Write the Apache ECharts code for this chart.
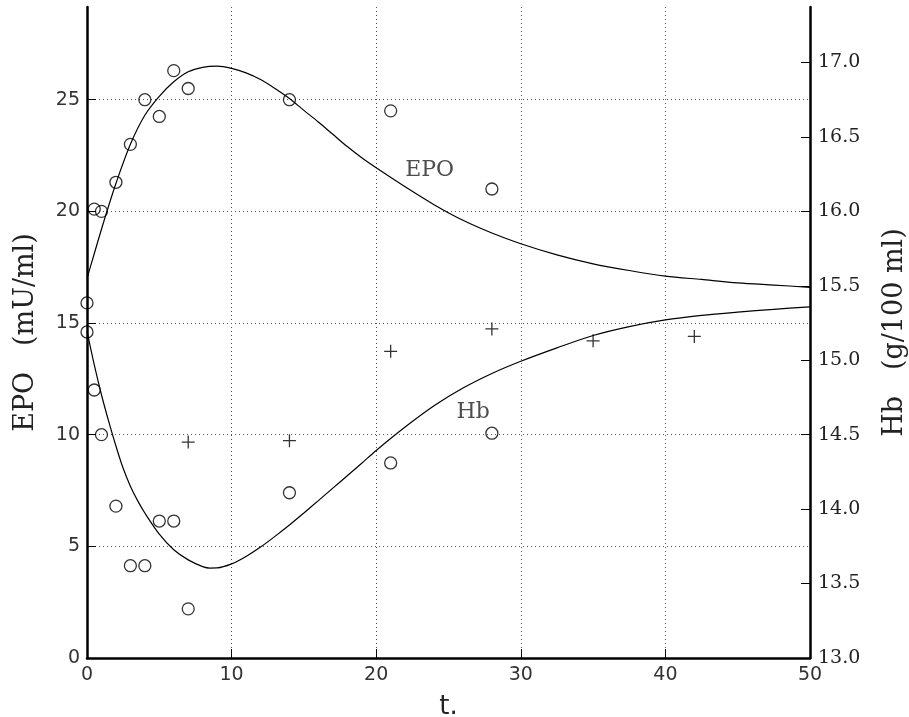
<!DOCTYPE html>
<html>
<head>
<meta charset="utf-8">
<script src="https://cdn.jsdelivr.net/npm/echarts@6/dist/echarts.min.js"></script>
<style>
html,body{margin:0;padding:0;background:#fff;}
#chart{width:909px;height:717px;}
</style>
</head>
<body>
<div id="chart"></div>
<script>
// ---- data ----
// EPO measurements (mU/ml), left axis
const epoT = [0, 0.5, 1, 2, 3, 4, 5, 6, 7, 14, 21, 28];
const epoObs = [15.9, 20.1, 20.0, 21.3, 23.0, 25.0, 24.25, 26.3, 25.5, 25.0, 24.5, 21.0];
// Hb measurements (g/100 ml), right axis - circles
const hbT = [0, 0.5, 1, 2, 3, 4, 5, 6, 7, 14, 21, 28];
const hbObs = [15.19, 14.80, 14.50, 14.02, 13.62, 13.62, 13.92, 13.92, 13.33, 14.11, 14.31, 14.51];
// Hb measurements (g/100 ml), right axis - plus signs
const hbPlusT = [7, 14, 21, 28, 35, 42];
const hbPlusObs = [14.45, 14.46, 15.06, 15.21, 15.13, 15.16];
// fitted EPO curve (left axis)
const epoCurveT = [0, 0.5, 1, 1.5, 2, 3, 4, 5, 6, 7, 8, 9, 10, 11, 12, 13, 14, 15, 16, 17, 18, 19, 20, 22, 24, 26, 28, 30, 32.5, 35, 37.5, 40, 42.5, 45, 47.5, 50];
const epoCurve = [17.0, 18.1, 19.2, 20.25, 21.25, 23.0, 24.3, 25.15, 25.8, 26.25, 26.45, 26.5, 26.4, 26.2, 25.9, 25.5, 25.05, 24.52, 24.0, 23.45, 22.9, 22.4, 21.95, 21.1, 20.3, 19.6, 19.03, 18.55, 18.05, 17.65, 17.35, 17.1, 16.95, 16.8, 16.7, 16.6];
// fitted Hb curve (right axis, g/100 ml)
const hbCurveT = [0, 0.5, 1, 1.5, 2, 2.5, 3, 3.5, 4, 5, 6, 7, 8, 8.5, 9, 10, 11, 12, 13, 14, 15, 16, 17, 18, 19, 20, 22, 24, 26, 28, 30, 32.5, 35, 37.5, 40, 42.5, 45, 47.5, 50];
const hbCurve = [15.196, 14.971, 14.768, 14.589, 14.424, 14.274, 14.154, 14.057, 13.974, 13.832, 13.727, 13.659, 13.614, 13.604, 13.605, 13.632, 13.682, 13.745, 13.817, 13.893, 13.974, 14.057, 14.141, 14.224, 14.308, 14.394, 14.551, 14.694, 14.813, 14.911, 14.993, 15.083, 15.166, 15.226, 15.271, 15.301, 15.323, 15.342, 15.359];
// in-plot curve labels [t, EPO-axis value, text]
const curveLabels = [[23.7, 21.85, 'EPO'], [26.7, 11.0, 'Hb']];

const zip = (a, b) => a.map((v, i) => [v, b[i]]);
const plusPath = 'path://M0,5 L10,5 M5,0 L5,10';
const sans = 'DejaVu Sans';
const serif = 'DejaVu Serif';
const gridLine = {color: '#555', width: 1, type: [1, 3]};

const chart = echarts.init(document.getElementById('chart'), null, {renderer: 'canvas'});
chart.setOption({
  animation: false,
  backgroundColor: '#fff',
  grid: {left: 87, right: 99, top: 7, bottom: 59, containLabel: false, outerBoundsMode: 'none'},
  xAxis: {
    type: 'value', min: 0, max: 50, interval: 10,
    name: 't.', nameLocation: 'middle', nameGap: 36,
    nameTextStyle: {fontFamily: sans, fontSize: 26, color: '#222'},
    axisLine: {lineStyle: {color: '#000', width: 2.5}},
    axisTick: {inside: true, length: 9, lineStyle: {color: '#000', width: 1}},
    axisLabel: {margin: 8, fontFamily: sans, fontSize: 19, color: '#333'},
    splitLine: {show: true, showMinLine: false, showMaxLine: false, lineStyle: gridLine}
  },
  yAxis: [
    {
      type: 'value', min: 0, max: 29.15, interval: 5, position: 'left',
      name: 'EPO   (mU/ml)', nameLocation: 'middle', nameGap: 48,
      nameTextStyle: {fontFamily: serif, fontSize: 27, color: '#222'},
      axisLine: {show: true, onZero: false, lineStyle: {color: '#000', width: 2.5}},
      axisTick: {inside: true, length: 9, lineStyle: {color: '#000', width: 1}},
      axisLabel: {margin: 7, fontFamily: sans, fontSize: 19, color: '#333', showMaxLabel: false},
      splitLine: {show: true, showMinLine: false, showMaxLine: false, lineStyle: gridLine}
    },
    {
      type: 'value', min: 13, max: 17.3725, interval: 0.5, position: 'right',
      name: 'Hb   (g/100 ml)', nameLocation: 'middle', nameGap: 71,
      nameTextStyle: {fontFamily: serif, fontSize: 27, color: '#222'},
      axisLine: {show: true, onZero: false, lineStyle: {color: '#000', width: 2.5}},
      axisTick: {inside: true, length: 9, lineStyle: {color: '#000', width: 1}},
      axisLabel: {margin: 8, fontFamily: serif, fontSize: 19, color: '#222', showMaxLabel: false,
        formatter: v => v.toFixed(1)},
      splitLine: {show: false}
    }
  ],
  series: [
    {type: 'line', name: 'EPO fit', yAxisIndex: 0, data: zip(epoCurveT, epoCurve), smooth: 0.3,
      showSymbol: false, lineStyle: {color: '#000', width: 1.2}, z: 3},
    {type: 'line', name: 'Hb fit', yAxisIndex: 1, data: zip(hbCurveT, hbCurve), smooth: 0.3,
      showSymbol: false, lineStyle: {color: '#000', width: 1.2}, z: 3},
    {type: 'scatter', name: 'EPO', yAxisIndex: 0, data: zip(epoT, epoObs), symbol: 'circle', symbolSize: 12,
      itemStyle: {color: 'rgba(255,255,255,0)', borderColor: '#000', borderWidth: 1.3}, z: 4},
    {type: 'scatter', name: 'Hb', yAxisIndex: 1, data: zip(hbT, hbObs), symbol: 'circle', symbolSize: 12,
      itemStyle: {color: 'rgba(255,255,255,0)', borderColor: '#000', borderWidth: 1.3}, z: 4},
    {type: 'scatter', name: 'Hb +', yAxisIndex: 1, data: zip(hbPlusT, hbPlusObs), symbol: plusPath, symbolSize: 13,
      itemStyle: {color: 'rgba(0,0,0,0)', borderColor: '#000', borderWidth: 1.3}, z: 4},
    {type: 'scatter', name: 'labels', yAxisIndex: 0, symbolSize: 0, silent: true,
      data: curveLabels.map(d => ({value: [d[0], d[1]], name: d[2]})),
      label: {show: true, position: 'inside', formatter: '{b}', fontFamily: serif, fontSize: 22, color: '#222'}, z: 5}
  ]
});
</script>
</body>
</html>
